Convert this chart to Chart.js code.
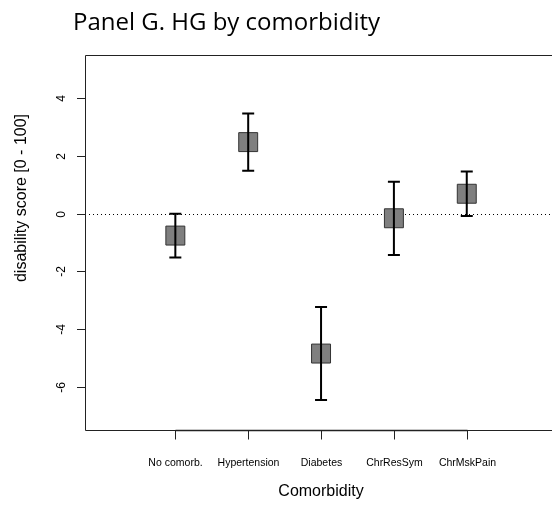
<!DOCTYPE html>
<html>
<head>
<meta charset="utf-8">
<script src="https://cdn.jsdelivr.net/npm/chart.js@4.4.1/dist/chart.umd.min.js"></script>
<style>
  html, body { margin: 0; padding: 0; background: #fff; overflow: hidden; }
  #chart { display: block; width: 552px; height: 506px; }
</style>
</head>
<body>
<canvas id="chart" width="552" height="506"></canvas>
<script>
// mean change and 95% interval per comorbidity group
const categories = ['No comorb.', 'Hypertension', 'Diabetes', 'ChrResSym', 'ChrMskPain'];
const means = [-0.76, 2.48, -4.85, -0.16, 0.69];
const lower = [-1.52, 1.49, -6.46, -1.43, -0.08];
const upper = [0.0, 3.47, -3.24, 1.11, 1.46];
const yTicks = [-6, -4, -2, 0, 2, 4];

const AXIS_FONT = '"Liberation Sans", Arial, sans-serif';

// the plot box runs a few px past the right edge of the canvas, so the
// x range stops where the canvas ends (full range would be -0.24 .. 6.24)
const X_MIN = -0.24;
const X_MAX = 6.17;

const axesPlugin = {
  id: 'rAxes',
  // dotted reference line at 0, under the squares
  beforeDatasetsDraw(chart) {
    const { ctx, chartArea: a, scales: { y } } = chart;
    ctx.save();
    ctx.strokeStyle = '#000';
    ctx.lineWidth = 1;
    ctx.setLineDash([1, 3]);
    ctx.beginPath();
    const y0 = Math.round(y.getPixelForValue(0)) + 0.5;
    ctx.moveTo(a.left, y0);
    ctx.lineTo(a.right, y0);
    ctx.stroke();
    ctx.restore();
  },
  afterDraw(chart) {
    const { ctx, chartArea: a, scales: { x, y } } = chart;
    ctx.save();
    ctx.strokeStyle = '#222';
    ctx.lineWidth = 1;
    const l = Math.round(a.left) + 0.5, t = Math.round(a.top) + 0.5, b = Math.round(a.bottom) + 0.5;
    ctx.beginPath();
    ctx.moveTo(a.right, t);
    ctx.lineTo(l, t);
    ctx.lineTo(l, b);
    ctx.lineTo(a.right, b);
    ctx.stroke();

    // y axis ticks + rotated labels
    ctx.fillStyle = '#000';
    ctx.font = '12px ' + AXIS_FONT;
    ctx.textAlign = 'center';
    ctx.textBaseline = 'middle';
    yTicks.forEach(v => {
      const py = Math.round(y.getPixelForValue(v)) + 0.5;
      ctx.beginPath();
      ctx.moveTo(a.left - 8, py);
      ctx.lineTo(a.left, py);
      ctx.stroke();
      ctx.save();
      ctx.translate(a.left - 23, py);
      ctx.rotate(-Math.PI / 2);
      ctx.fillText(String(v), 0, 0);
      ctx.restore();
    });

    // x axis line between first and last category, ticks and names
    const xs = categories.map((c, i) => Math.round(x.getPixelForValue(i + 1)) + 0.5);
    ctx.lineWidth = 1.5;
    ctx.beginPath();
    ctx.moveTo(xs[0], b);
    ctx.lineTo(xs[xs.length - 1], b);
    ctx.stroke();
    ctx.lineWidth = 1;
    ctx.font = '10.5px ' + AXIS_FONT;
    xs.forEach((px, i) => {
      ctx.beginPath();
      ctx.moveTo(px, b);
      ctx.lineTo(px, b + 9);
      ctx.stroke();
      ctx.fillText(categories[i], px, a.bottom + 33);
    });

    // axis titles
    ctx.font = '16px ' + AXIS_FONT;
    ctx.fillText('Comorbidity', 321, a.bottom + 62);
    ctx.save();
    ctx.translate(22, 198);
    ctx.rotate(-Math.PI / 2);
    ctx.fillText('disability score [0 - 100]', 0, 0);
    ctx.restore();

    // title
    ctx.font = '24px "Open Sans", sans-serif';
    ctx.textAlign = 'left';
    ctx.textBaseline = 'alphabetic';
    ctx.fillText('Panel G. HG by comorbidity', 73, 30);
    ctx.restore();
  }
};

// error bars with caps, drawn over the squares
const errorBarPlugin = {
  id: 'errorBars',
  afterDatasetsDraw(chart) {
    const { ctx, scales: { x, y } } = chart;
    ctx.save();
    ctx.strokeStyle = '#000';
    ctx.lineWidth = 2;
    categories.forEach((c, i) => {
      const px = x.getPixelForValue(i + 1);
      const top = y.getPixelForValue(upper[i]);
      const bot = y.getPixelForValue(lower[i]);
      ctx.beginPath();
      ctx.moveTo(px, top);
      ctx.lineTo(px, bot);
      ctx.moveTo(px - 6, top);
      ctx.lineTo(px + 6, top);
      ctx.moveTo(px - 6, bot);
      ctx.lineTo(px + 6, bot);
      ctx.stroke();
    });
    ctx.restore();
  }
};

new Chart(document.getElementById('chart'), {
  type: 'scatter',
  data: {
    datasets: [{
      data: means.map((m, i) => ({ x: i + 1, y: m })),
      pointStyle: 'rect',
      pointRadius: 13.4,
      pointHoverRadius: 13.4,
      backgroundColor: '#7f7f7f',
      borderColor: '#333',
      borderWidth: 1
    }]
  },
  options: {
    responsive: false,
    animation: false,
    events: [],
    layout: { autoPadding: false, padding: { left: 85, top: 55, right: 0, bottom: 76 } },
    scales: {
      x: { type: 'linear', min: X_MIN, max: X_MAX, display: false },
      y: { type: 'linear', min: -7.5, max: 5.5, display: false }
    },
    plugins: { legend: { display: false }, tooltip: { enabled: false } }
  },
  plugins: [axesPlugin, errorBarPlugin]
});
</script>
</body>
</html>
